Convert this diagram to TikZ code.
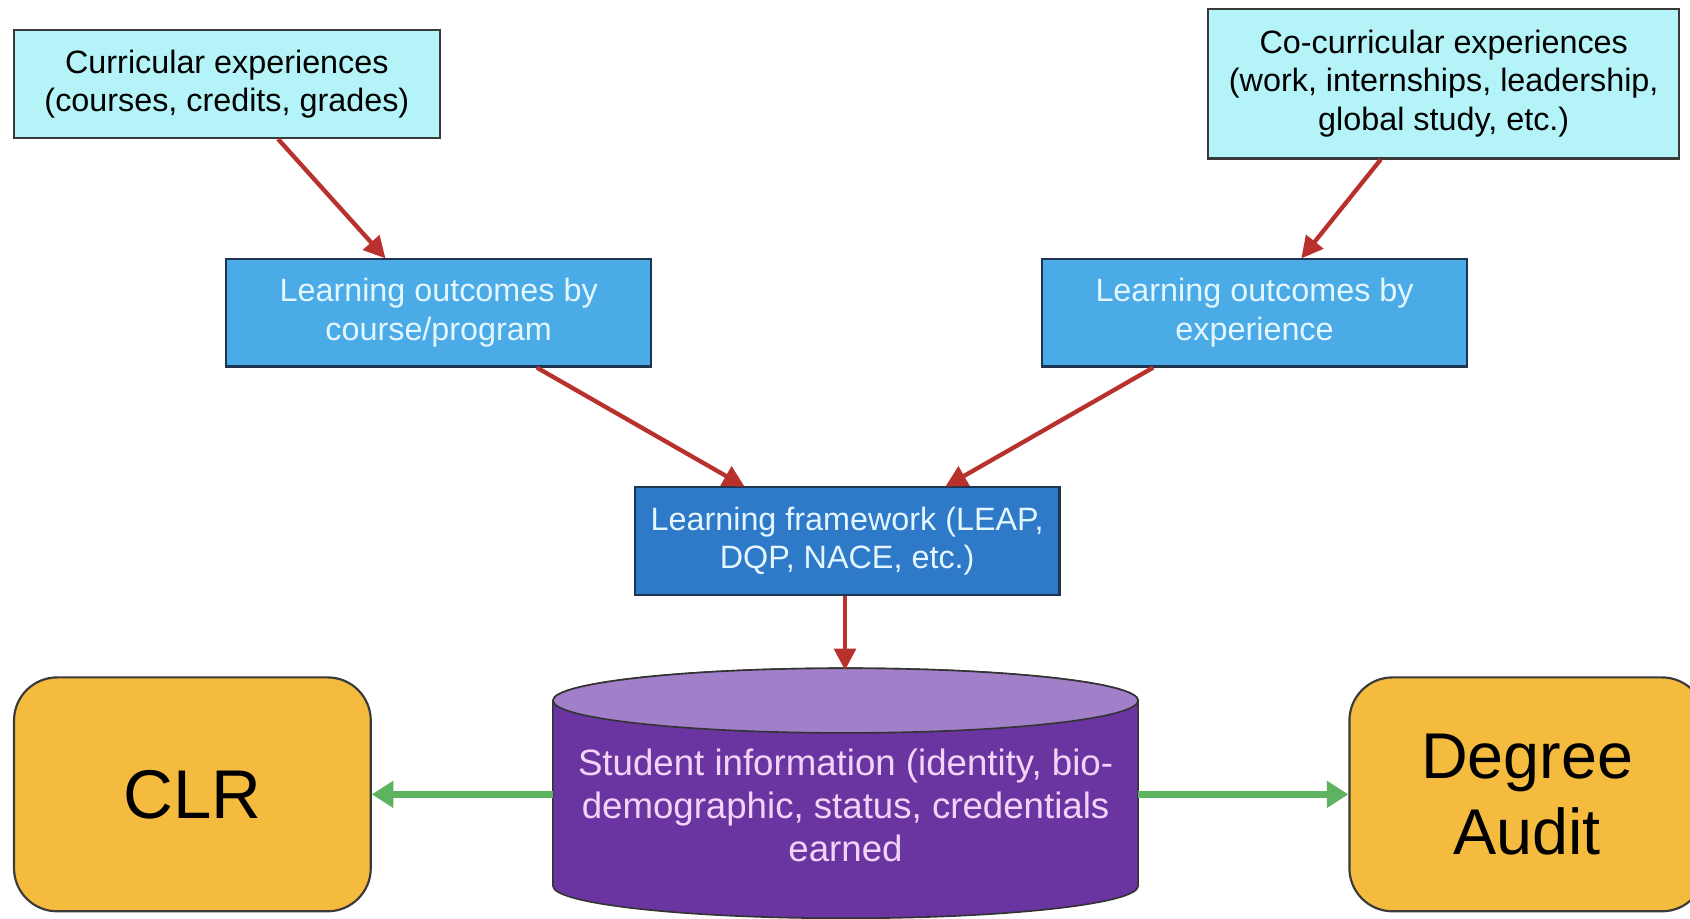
\documentclass[tikz,border=0pt]{standalone}
\usepackage{fontspec}
\setmainfont{Liberation Sans}
\usetikzlibrary{arrows.meta}
\definecolor{cyanfill}{HTML}{B4F4F8}
\definecolor{lofill}{HTML}{4AABE6}
\definecolor{fwfill}{HTML}{2E79C8}
\definecolor{dbbody}{HTML}{6A35A0}
\definecolor{dbtop}{HTML}{A17FC9}
\definecolor{orangefill}{HTML}{F4BB3E}
\definecolor{redarrow}{HTML}{B8312C}
\definecolor{greenarrow}{HTML}{5DB35F}
\definecolor{lighttext}{HTML}{E4F6FF}
\definecolor{pinktext}{HTML}{F2D4F8}
\definecolor{boxline}{HTML}{3A3A3A}
\definecolor{blueline}{HTML}{1E3550}
\begin{document}
\begin{tikzpicture}[x=1pt,y=-1pt,
  cyanbox/.style={draw=boxline,line width=2pt,fill=cyanfill,align=center,
    font=\fontsize{30}{36}\selectfont,inner sep=0pt},
  lobox/.style={draw=blueline,line width=2pt,fill=lofill,align=center,
    text=lighttext,font=\fontsize{30}{36}\selectfont,inner sep=0pt,
    minimum width=394pt,minimum height=100pt},
  fwbox/.style={lobox,fill=fwfill},
  outbox/.style={draw=boxline,line width=2pt,fill=orangefill,rounded corners=40pt,
    align=center,inner sep=0pt},
  redarr/.style={draw=redarrow,line width=4pt,-{Triangle[length=20pt,width=20pt]},shorten >=-1pt},
  greenarr/.style={draw=greenarrow,line width=6pt,-{Triangle[length=20pt,width=24pt]}}
]
\useasboundingbox (0,0) rectangle (1568,852);
\fill[white] (0,0) rectangle (1568,852);

% top boxes
\node[cyanbox,minimum width=395pt,minimum height=100pt] (cur) at (210.5,78)
  {Curricular experiences\\(courses, credits, grades)};
\node[cyanbox,minimum width=437pt,minimum height=139pt] (cocur) at (1339.5,77.5)
  {Co-curricular experiences\\(work, internships, leadership,\\global study, etc.)};

% learning outcomes
\node[lobox] (lo1) at (407,290) {Learning outcomes by\\course/program};
\node[lobox] (lo2) at (1164,290) {Learning outcomes by\\experience};

% framework
\node[fwbox] (fw) at (786,502) {Learning framework (LEAP,\\DQP, NACE, etc.)};

% cylinder
\path[fill=dbbody,draw=black!80,line width=1.5pt]
  (513,650) -- (513,822) arc[start angle=180,end angle=360,x radius=271.5pt,y radius=30pt]
  -- (1056,650) arc[start angle=0,end angle=180,x radius=271.5pt,y radius=30pt] -- cycle;
\path[fill=dbtop,draw=black!80,line width=1.5pt]
  (784.5,650) ellipse[x radius=271.5pt,y radius=30pt];
\node[minimum width=543pt,minimum height=232pt,inner sep=0pt] (db) at (784.5,737) {};
\node[align=center,text=pinktext,font=\fontsize{34}{40}\selectfont] (dbtext) at (784.5,747)
  {Student information (identity, bio-\\demographic, status, credentials\\earned};

% output boxes
\node[outbox,minimum width=331pt,minimum height=217pt,font=\fontsize{64}{72}\selectfont] (clr) at (178.5,737) {CLR};
\node[outbox,minimum width=330pt,minimum height=217pt,font=\fontsize{60}{70}\selectfont] (audit) at (1417,737) {Degree\\Audit};

% red arrows
\draw[redarr] ([xshift=47.5pt]cur.south) -- ([xshift=-50pt]lo1.north);
\draw[redarr] ([xshift=-58.5pt]cocur.south) -- ([xshift=44pt]lo2.north);
\draw[redarr] ([xshift=91pt]lo1.south) -- ([xshift=-96pt]fw.north);
\draw[redarr] ([xshift=-94pt]lo2.south) -- ([xshift=92pt]fw.north);
\draw[redarr] ([xshift=-2pt]fw.south) -- ([xshift=-0.5pt]db.north);

% green arrows
\draw[greenarr] (db.west) -- (clr.east);
\draw[greenarr] (db.east) -- (audit.west);
\end{tikzpicture}
\end{document}
